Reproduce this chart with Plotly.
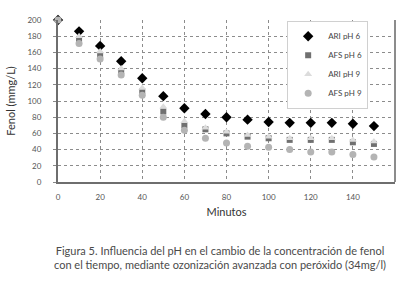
import plotly.graph_objects as go

minutos = [0, 10, 20, 30, 40, 50, 60, 70, 80, 90, 100, 110, 120, 130, 140, 150]
ari_ph6 = [200, 186, 168, 149, 128, 106, 91, 84, 80, 77, 74, 73, 73, 73, 72, 69]
afs_ph6 = [200, 176, 157, 137, 112, 87, 70, 65, 60, 56, 54, 52, 52, 52, 49, 47]
ari_ph9 = [200, 180, 161, 140, 116, 93, 75, 67, 62, 58, 56, 54, 54, 54, 52, 50]
afs_ph9 = [200, 171, 152, 132, 107, 80, 64, 54, 48, 44, 43, 40, 37, 37, 34, 31]

series = [
    ("ARI pH 6", ari_ph6, "diamond", "#000000", 8),
    ("AFS pH 6", afs_ph6, "square", "#707070", 6),
    ("ARI pH 9", ari_ph9, "triangle-up", "#dcdcdc", 7),
    ("AFS pH 9", afs_ph9, "circle", "#b4b4b4", 7),
]

fig = go.Figure()
for name, vals, sym, col, sz in series:
    fig.add_trace(go.Scatter(
        x=minutos, y=vals, mode="markers", name=name,
        marker=dict(symbol=sym, color=col, size=sz, line=dict(width=0)),
        cliponaxis=False,
    ))

font_main = "Lato, DejaVu Sans, sans-serif"
tickfont = dict(family=font_main, size=8, color="#555555")
fig.update_layout(
    width=400, height=281,
    margin=dict(l=58, r=5, t=20, b=99),
    paper_bgcolor="white", plot_bgcolor="white",
    showlegend=True,
    legend=dict(
        x=0.68, y=0.995, xanchor="left", yanchor="top",
        bgcolor="white", bordercolor="#d0d0d0", borderwidth=1,
        font=dict(family=font_main, size=8, color="#444444"),
        tracegroupgap=0, itemwidth=30,
    ),
    xaxis=dict(
        range=[0, 160], tickvals=[0, 20, 40, 60, 80, 100, 120, 140, 160],
        showgrid=True, gridcolor="#8c8c8c", griddash="dot", gridwidth=1,
        showline=True, linecolor="#6e6e6e", linewidth=2, mirror=False,
        zeroline=False, ticks="", tickfont=tickfont, ticklabelstandoff=6,
        title=dict(text="Minutos", font=dict(family=font_main, size=11, color="#333333"), standoff=8),
    ),
    yaxis=dict(
        range=[0, 200], tickvals=[0, 20, 40, 60, 80, 100, 120, 140, 160, 180, 200],
        showgrid=True, gridcolor="#8c8c8c", griddash="dot", gridwidth=1,
        showline=True, linecolor="#6e6e6e", linewidth=2,
        zeroline=False, ticks="outside", ticklen=3, tickcolor="#888888",
        tickfont=tickfont, ticklabelstandoff=10,
        title=dict(text="Fenol (mmg/L)", font=dict(family=font_main, size=11, color="#333333"), standoff=10),
    ),
    shapes=[dict(type="line", xref="paper", yref="paper", x0=1, x1=1, y0=0, y1=1,
                 line=dict(color="#8c8c8c", width=2))],
    annotations=[dict(
        text="Figura 5. Influencia del pH en el cambio de la concentración de fenol<br>con el tiempo, mediante ozonización avanzada con peróxido (34mg/l)",
        xref="paper", yref="paper", x=0.48, y=-0.37, xanchor="center", yanchor="top",
        showarrow=False, align="center",
        font=dict(family=font_main, size=11, color="#4a4a4a"),
    )],
)

fig.write_html("out.html", config={"displayModeBar": False},
               post_script="document.body.style.margin='0';")
